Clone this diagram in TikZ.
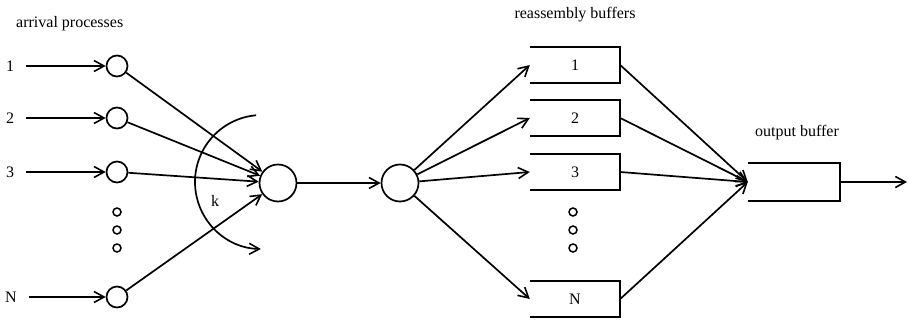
\documentclass[tikz,border=0pt]{standalone}
\usepackage{fontspec}
\setmainfont{Liberation Serif}
\usetikzlibrary{arrows.meta}
\begin{document}
\begin{tikzpicture}[x=1pt,y=-1pt,
  every node/.style={font=\fontsize{16}{18}\selectfont},
  ln/.style={line width=1.7pt},
  arr/.style={ln,-{Straight Barb[length=10pt,width=11pt,line width=1.6pt]}},
  src/.style={draw,ln,circle,minimum size=21pt,inner sep=0pt},
  big/.style={draw,ln,circle,minimum size=37pt,inner sep=0pt},
  dotc/.style={draw,line width=1.5pt,circle,minimum size=8pt,inner sep=0pt},
  buf/.style={minimum width=90pt,minimum height=36pt,inner sep=0pt},
  lab/.style={inner sep=1pt}]
\useasboundingbox (0,0) rectangle (909,321);
% titles
\node[anchor=west,inner sep=0pt] (t1) at (16,24) {arrival processes};
\node (t2) at (575,15) {reassembly buffers};
\node (t3) at (797,133) {output buffer};
% input labels and sources
\node[lab] (l1) at (10,66) {1};
\node[lab] (l2) at (10,118) {2};
\node[lab] (l3) at (10,172) {3};
\node[lab] (lN) at (11,297) {N};
\node[src] (a1) at (117,66) {};
\node[src] (a2) at (117,118) {};
\node[src] (a3) at (117,172) {};
\node[src] (aN) at (117,297) {};
\node[dotc] (d1) at (117,212) {};
\node[dotc] (d2) at (117,230) {};
\node[dotc] (d3) at (117,248) {};
\foreach \i in {1,2,3,N}{
  \draw[arr] ([xshift=11pt]l\i.east) -- (a\i);
}
% first server
\node[big] (b1) at (278,183) {};
\foreach \i in {1,2,3,N}{
  \draw[arr] (a\i) -- (b1);
}
\coordinate (kc) at (262,182);
\draw[arr] (kc) ++(265:67) arc (265:91:67);
\node (k) at (215,201) {k};
% second server
\node[big] (b2) at (400,183) {};
\draw[arr] (b1) -- (b2);
% reassembly buffers
\node[buf] (q1) at (575,65) {1};
\node[buf] (q2) at (575,118) {2};
\node[buf] (q3) at (575,172) {3};
\node[buf] (qN) at (575,299) {N};
\node[dotc] (e1) at (573,212) {};
\node[dotc] (e2) at (573,230) {};
\node[dotc] (e3) at (573,248) {};
% output buffer
\node[buf,minimum width=92pt,minimum height=37pt] (ob) at (794,182) {};
\draw[ln] (ob.north west) -- (ob.north east) -- (ob.south east) -- (ob.south west);
\coordinate (out) at (907,182);
\draw[arr] (ob.east) -- (out);
\foreach \i in {1,2,3,N}{
  \draw[ln] (q\i.north west) -- (q\i.north east) -- (q\i.south east) -- (q\i.south west);
  \draw[arr] (b2) -- (q\i.west);
  \draw[arr] (q\i.east) -- (ob.west);
}
\end{tikzpicture}
\end{document}
